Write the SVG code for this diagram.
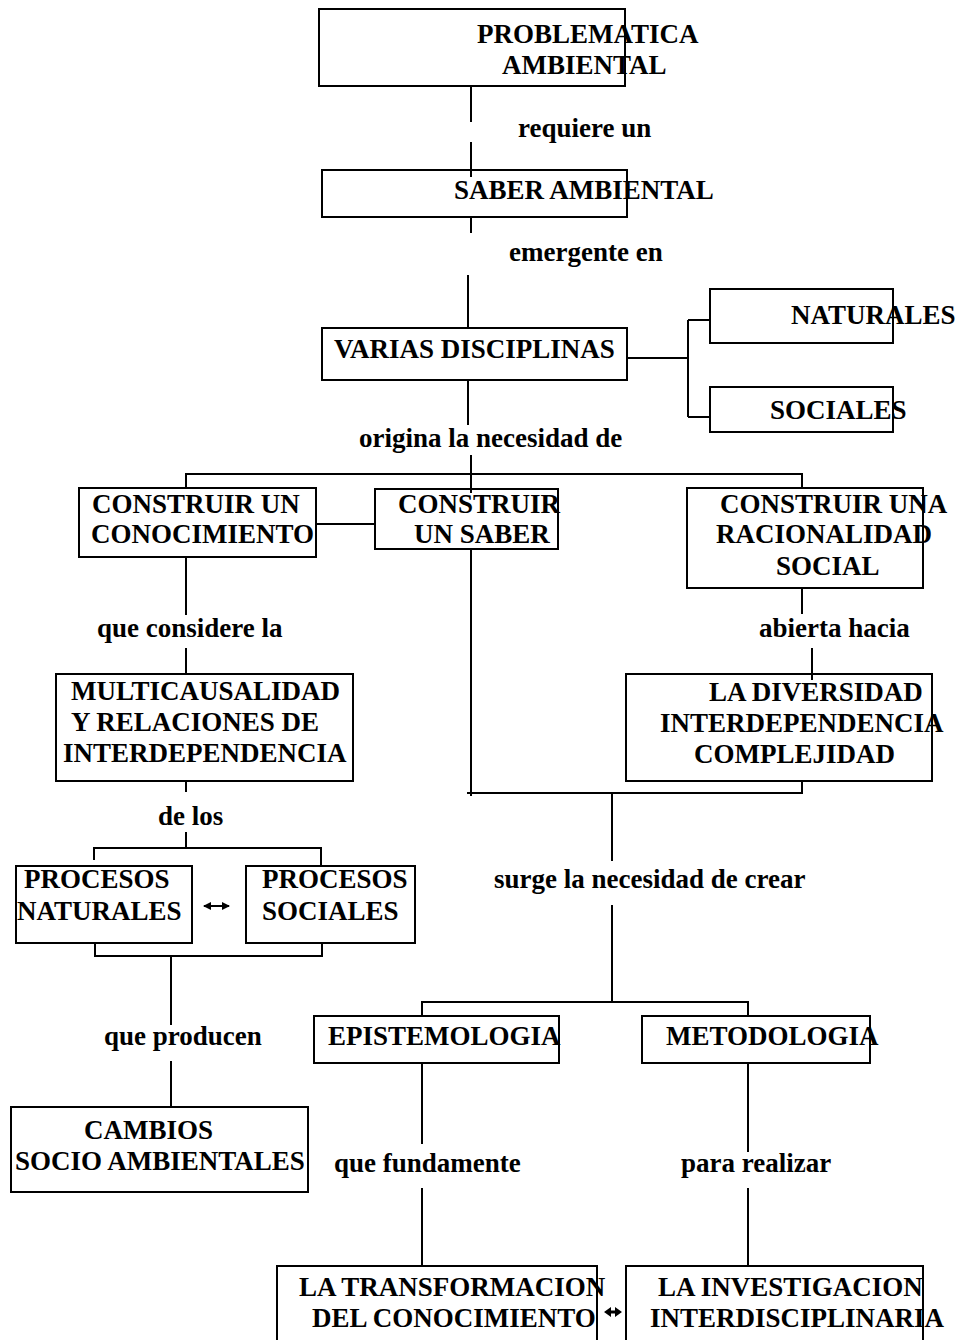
<svg xmlns="http://www.w3.org/2000/svg" width="958" height="1340" viewBox="0 0 958 1340">
<style>
.box{fill:none;stroke:#000;stroke-width:2}
.c{fill:none;stroke:#000;stroke-width:2}
.t{font-family:"Liberation Serif","Times New Roman",serif;font-weight:bold;font-size:27px;fill:#000}
</style>
<defs>
<marker id="ah" markerWidth="8" markerHeight="8" refX="7" refY="4" orient="auto-start-reverse" markerUnits="userSpaceOnUse">
<path d="M0,0 L8,4 L0,8 Z" fill="#000"/>
</marker>
</defs>
<rect width="958" height="1340" fill="#fff"/>
<g id="connectors">
<path class="c" d="M471,86V122 M471,142V177 M471,217V233 M468,275V328 M468,380V425 M471,455V493"/>
<path class="c" d="M627,358H688 M688,320V417 M688,320H710 M688,417H710"/>
<path class="c" d="M186,488V474H802V488 M316,524H375"/>
<path class="c" d="M186,557V615 M186,648V674 M471,549V796 M802,588V614 M812,648V680"/>
<path class="c" d="M467,793H802V780 M612,793V861 M612,905V1003"/>
<path class="c" d="M422,1016V1002H748V1016 M422,1063V1144 M422,1188V1266 M748,1063V1152 M748,1188V1266"/>
<path class="c" d="M186,781V792 M186,832V848 M94,860V848H321V866"/>
<path class="c" d="M95,943V956H322V943 M171,956V1025 M171,1061V1107"/>
<line class="c" x1="204" y1="906" x2="229" y2="906" marker-start="url(#ah)" marker-end="url(#ah)"/>
<path d="M604,1312 L611,1307 L611,1310.5 L615,1310.5 L615,1307 L622,1312 L615,1317 L615,1313.5 L611,1313.5 L611,1317 Z" fill="#000"/>
</g>
<g id="n-problematica"><rect class="box" x="319" y="9" width="306" height="77"/><text class="t" x="477" y="43">PROBLEMATICA</text><text class="t" x="502" y="74">AMBIENTAL</text></g>
<g id="l-requiere"><text class="t" x="518" y="137">requiere un</text></g>
<g id="n-saber-ambiental"><rect class="box" x="322" y="170" width="305" height="47"/><text class="t" x="454" y="199">SABER AMBIENTAL</text></g>
<g id="l-emergente"><text class="t" x="509" y="261">emergente en</text></g>
<g id="n-varias"><rect class="box" x="322" y="328" width="305" height="52"/><text class="t" x="334" y="358">VARIAS DISCIPLINAS</text></g>
<g id="n-naturales"><rect class="box" x="710" y="289" width="183" height="54"/><text class="t" x="791" y="324">NATURALES</text></g>
<g id="n-sociales"><rect class="box" x="710" y="387" width="183" height="45"/><text class="t" x="770" y="419">SOCIALES</text></g>
<g id="l-origina"><text class="t" x="359" y="447">origina la necesidad de</text></g>
<g id="n-conocimiento"><rect class="box" x="79" y="488" width="237" height="69"/><text class="t" x="92" y="513">CONSTRUIR UN</text><text class="t" x="91" y="543">CONOCIMIENTO</text></g>
<g id="n-saber"><rect class="box" x="375" y="489" width="183" height="60"/><text class="t" x="398" y="513">CONSTRUIR</text><text class="t" x="414" y="543">UN SABER</text></g>
<g id="n-racionalidad"><rect class="box" x="687" y="488" width="236" height="100"/><text class="t" x="720" y="513">CONSTRUIR UNA</text><text class="t" x="716" y="543">RACIONALIDAD</text><text class="t" x="776" y="575">SOCIAL</text></g>
<g id="l-considere"><text class="t" x="97" y="637">que considere la</text></g>
<g id="l-abierta"><text class="t" x="759" y="637">abierta hacia</text></g>
<g id="n-multicausalidad"><rect class="box" x="56" y="674" width="297" height="107"/><text class="t" x="71" y="700">MULTICAUSALIDAD</text><text class="t" x="71" y="731">Y RELACIONES DE</text><text class="t" x="63" y="762">INTERDEPENDENCIA</text></g>
<g id="n-diversidad"><rect class="box" x="626" y="674" width="306" height="107"/><text class="t" x="709" y="701">LA DIVERSIDAD</text><text class="t" x="660" y="732">INTERDEPENDENCIA</text><text class="t" x="694" y="763">COMPLEJIDAD</text></g>
<g id="l-delos"><text class="t" x="158" y="825">de los</text></g>
<g id="n-proc-naturales"><rect class="box" x="16" y="866" width="176" height="77"/><text class="t" x="24" y="888">PROCESOS</text><text class="t" x="17" y="920">NATURALES</text></g>
<g id="n-proc-sociales"><rect class="box" x="246" y="866" width="169" height="77"/><text class="t" x="262" y="888">PROCESOS</text><text class="t" x="262" y="920">SOCIALES</text></g>
<g id="l-surge"><text class="t" x="494" y="888">surge la necesidad de crear</text></g>
<g id="l-producen"><text class="t" x="104" y="1045">que producen</text></g>
<g id="n-epistemologia"><rect class="box" x="314" y="1016" width="245" height="47"/><text class="t" x="328" y="1045">EPISTEMOLOGIA</text></g>
<g id="n-metodologia"><rect class="box" x="642" y="1016" width="228" height="47"/><text class="t" x="666" y="1045">METODOLOGIA</text></g>
<g id="n-cambios"><rect class="box" x="11" y="1107" width="297" height="85"/><text class="t" x="84" y="1139">CAMBIOS</text><text class="t" x="15" y="1170">SOCIO AMBIENTALES</text></g>
<g id="l-fundamente"><text class="t" x="334" y="1172">que fundamente</text></g>
<g id="l-realizar"><text class="t" x="681" y="1172">para realizar</text></g>
<g id="n-transformacion"><rect class="box" x="277" y="1266" width="320" height="100"/><text class="t" x="299" y="1296">LA TRANSFORMACION</text><text class="t" x="312" y="1327">DEL CONOCIMIENTO</text></g>
<g id="n-investigacion"><rect class="box" x="626" y="1266" width="297" height="100"/><text class="t" x="658" y="1296">LA INVESTIGACION</text><text class="t" x="650" y="1327">INTERDISCIPLINARIA</text></g>
</svg>
